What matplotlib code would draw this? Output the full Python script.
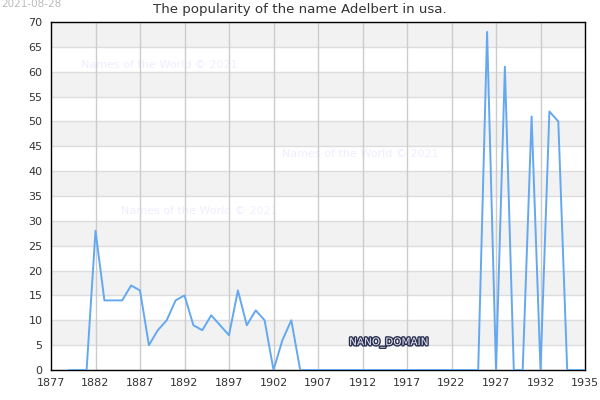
import matplotlib.pyplot as plt
import matplotlib.patheffects as pe

# ---- data ----
years = list(range(1879, 1938))
counts = [0, 0, 0, 28, 14, 14, 14, 17, 16, 5,       # 1879-1888
          8, 10, 14, 15, 9, 8, 11, 9, 7, 16,        # 1889-1898
          9, 12, 10, 0, 6, 10, 0, 0, 0, 0,          # 1899-1908
          0, 0, 0, 0, 0, 0, 0, 0, 0, 0,             # 1909-1918
          0, 0, 0, 0, 0, 0, 0, 68, 0, 61,           # 1919-1928
          0, 0, 51, 0, 52, 50, 0, 0, 0]             # 1929-1937
x_ticks = [1877, 1882, 1887, 1892, 1897, 1902, 1907, 1912, 1917, 1922, 1927, 1932, 1937]
x_tick_labels = ['1877', '1882', '1887', '1892', '1897', '1902', '1907',
                 '1912', '1917', '1922', '1927', '1932', '1935']
y_ticks = list(range(0, 75, 5))

plt.rcParams['font.family'] = ['DejaVu Sans']

fig = plt.figure(figsize=(6, 4), dpi=100)
ax = fig.add_axes([0.085, 0.075, 0.89, 0.87])

# alternating bands
for lo in range(5, 70, 10):
    ax.axhspan(lo, lo + 5, color='#f2f2f2', zorder=0, lw=0)

ax.set_xlim(1877, 1937)
ax.set_ylim(0, 70)
ax.set_xticks(x_ticks)
ax.set_xticklabels(x_tick_labels)
ax.set_yticks(y_ticks)
ax.tick_params(length=0, labelsize=8, colors='#333333', pad=6)

for yv in y_ticks[1:]:
    ax.axhline(yv, color='#dddddd', lw=1, zorder=1)
for xv in x_ticks[1:-1]:
    ax.axvline(xv, color='#cccccc', lw=1, zorder=1)

# watermarks
for tx, ty in [(1880.4, 60.8), (1903.0, 42.8), (1884.9, 31.4)]:
    ax.text(tx, ty, 'Names of the World © 2021', fontsize=8, color='#eeeeff', zorder=0.5)

ax.plot(years, counts, color='#64a8f0', lw=1.4, zorder=3)

t = ax.text(1910.5, 5.0, 'NANO_DOMAIN', fontsize=7.5, color='#e8e8f4', zorder=4)
t.set_path_effects([pe.withStroke(linewidth=2, foreground='#2a3050')])

for s in ax.spines.values():
    s.set_color('black')
    s.set_linewidth(1)

fig.text(0.499, 0.975, 'The popularity of the name Adelbert in usa.', ha='center',
         va='center', fontsize=9.6, color='#333333')
fig.text(0.002, 0.99, '2021-08-28', ha='left', va='center', fontsize=7.5, color='#bbbbbb')

fig.savefig('out.png', dpi=100)
